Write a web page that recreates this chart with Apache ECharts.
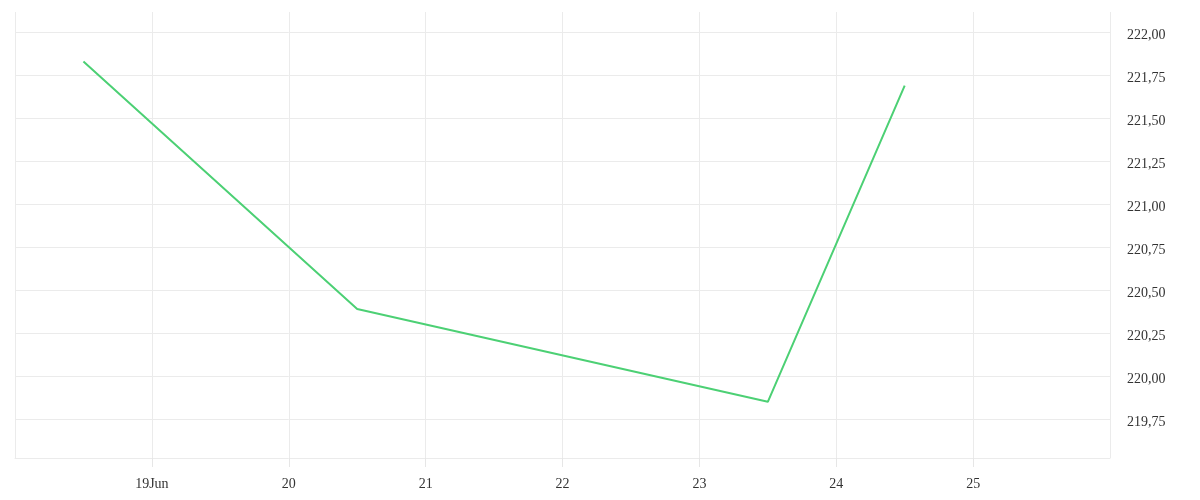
<!DOCTYPE html>
<html>
<head>
<meta charset="utf-8">
<script src="https://cdn.jsdelivr.net/npm/echarts@6/dist/echarts.min.js"></script>
<style>html,body{margin:0;padding:0;background:#fff}#c{width:1200px;height:500px}</style>
</head>
<body>
<div id="c"></div>
<script>
// Day of month (June), positioned at mid-day
var xDays = [18.5, 20.5, 23.5, 24.5];
var values = [221.83, 220.39, 219.85, 221.69];
var yTicks = [219.75, 220.00, 220.25, 220.50, 220.75, 221.00, 221.25, 221.50, 221.75, 222.00];
var xMin = 18, xMax = 26;
var yMin = 219.523, yMax = 222.118;

var chart = echarts.init(document.getElementById('c'));
var font = '"Liberation Serif", serif';
chart.setOption({
  animation: false,
  grid: {left: 15, right: 90, top: 12, bottom: 42, containLabel: false},
  xAxis: {
    type: 'value', min: xMin, max: xMax, interval: 1,
    axisLine: {show: true, lineStyle: {color: '#ebebeb', width: 1}},
    axisTick: {show: true, inside: false, length: 9, lineStyle: {color: '#e6e6e6', width: 1}},
    splitLine: {show: true, lineStyle: {color: '#ebebeb', width: 1}},
    axisLabel: {
      margin: 19, color: '#333', fontFamily: font, fontSize: 14,
      showMinLabel: false, showMaxLabel: false,
      formatter: function (v) { return v === 19 ? '19Jun' : String(v); }
    }
  },
  yAxis: {
    type: 'value', position: 'right', min: yMin, max: yMax, scale: true,
    axisLine: {show: false},
    axisTick: {show: false, customValues: yTicks},
    splitLine: {show: true, lineStyle: {color: '#ebebeb', width: 1}},
    axisLabel: {
      customValues: yTicks, margin: 17, color: '#333', fontFamily: font, fontSize: 14,
      verticalAlign: 'top', lineHeight: 6,
      formatter: function (v) { return v.toFixed(2).replace('.', ','); }
    }
  },
  series: [{
    type: 'line',
    data: xDays.map(function (d, i) { return [d, values[i]]; }),
    showSymbol: false,
    lineStyle: {color: '#4cd074', width: 2},
    itemStyle: {color: '#4cd074'}
  }]
});
</script>
</body>
</html>
